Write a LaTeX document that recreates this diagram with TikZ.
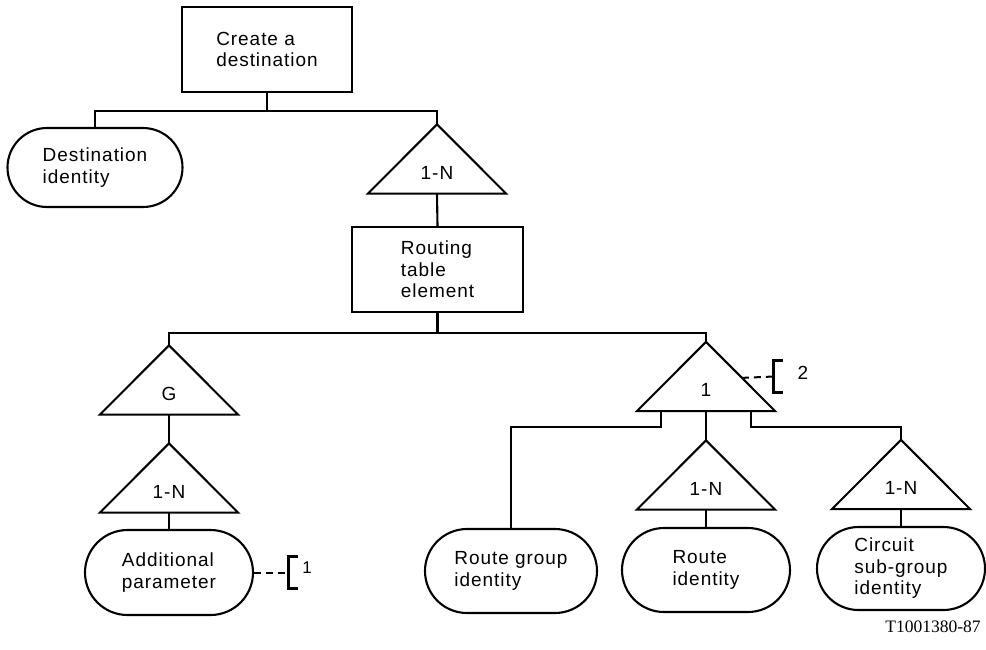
\documentclass[tikz,border=0pt]{standalone}
\usepackage{fontspec}
\setmainfont{Liberation Sans}[LetterSpace=5]
\newfontfamily\tagfont{Liberation Serif}
\usetikzlibrary{shapes.misc,calc,positioning}

\begin{document}
\begin{tikzpicture}[
    x=1pt,
    y=-1pt,
    line width=2.1pt,
    every node/.style={
        font=\fontsize{19}{21.5}\selectfont
    },
    box/.style={
        rectangle,
        draw,
        align=left,
        minimum width=170pt,
        minimum height=85pt,
        inner sep=0pt
    },
    item/.style={
        rounded rectangle,
        draw,
        align=left,
        minimum width=168pt,
        minimum height=84pt,
        inner sep=0pt
    },
    tri/.style={
        rectangle,
        minimum width=136pt,
        minimum height=67pt,
        inner sep=0pt,
        text height=40pt,
        text depth=0pt,
        append after command={\pgfextra{\draw[line join=miter]
            (\tikzlastnode.north) -- (\tikzlastnode.south east)
            -- (\tikzlastnode.south west) -- cycle;}}
    },
    brk/.style={
        rectangle,
        minimum width=7pt,
        minimum height=29pt,
        inner sep=0pt,
        append after command={\pgfextra{\draw[line width=3pt]
            (\tikzlastnode.north east) -- (\tikzlastnode.north west)
            -- (\tikzlastnode.south west) -- (\tikzlastnode.south east);}}
    },
    note/.style={
        dash pattern=on 7pt off 5pt,
        line width=2pt
    }
]
    \useasboundingbox (0,0) rectangle (986,649);

    % Top of the tree
    \node[box] (create) at (267,49.5) {Create a\\destination};
    \node[item, minimum width=175pt, minimum height=79pt] (dest) at (95,167.5) {Destination\\identity};
    \node[tri] (many) at (437,159) {1-N};
    \node[box, minimum width=171pt] (rte) at (437.5,269.5) {Routing\\table\\element};

    % Left branch
    \node[tri] (grp) at (169,380) {G};
    \node[tri] (pmany) at (169,478) {1-N};
    \node[item, minimum height=85pt] (param) at (169,572.5) {Additional\\parameter};
    \node[brk] (b1) at (293.5,572.5) {};
    \node[font=\fontsize{17}{18}\selectfont] (c1) at (307,568) {1};

    % Right branch
    \node[tri] (one) at (706,376.5) {1};
    \node[brk] (b2) at (778.5,376.5) {};
    \node (c2) at (803,373) {2};
    \node[item, minimum width=172pt] (rgid) at (511,571) {Route group\\identity};
    \node[tri] (rmany) at (706,475) {1-N};
    \node[item] (rid) at (706,570) {Route\\identity};
    \node[tri] (cmany) at (901,474.5) {1-N};
    \node[item, minimum height=83pt] (cid) at (901,568.5) {Circuit\\sub-group\\identity};

    % Figure tag
    \node[font=\tagfont\fontsize{17.5}{20}\selectfont, anchor=east] (tag) at (985,627) {T1001380-87};

    % Connections
    \coordinate[below=18pt of create.south] (j1);
    \draw (create.south) -- (j1);
    \draw (dest.north) |- (j1) -| (many.north);
    \draw (many.south) -- (rte.north);

    \coordinate[below=20pt of rte.south] (j2);
    \draw (rte.south) -- (j2);
    \draw (grp.north) |- (j2) -| (one.north);
    \draw (grp.south) -- (pmany.north);
    \draw (pmany.south) -- (param.north);

    \coordinate (bl) at ($(one.south west)+(24,0)$);
    \coordinate (br) at ($(one.south east)+(-24,0)$);
    \draw (bl) -- ++(0,16) -| (rgid.north);
    \draw (one.south) -- (rmany.north);
    \draw (br) -- ++(0,16) -| (cmany.north);
    \draw (rmany.south) -- (rid.north);
    \draw (cmany.south) -- (cid.north);

    % Notes
    \draw[note] (param.east) -- (b1.west);
    \draw[note] ($(one.north)!0.52!(one.south east)$) -- (b2.west);

\end{tikzpicture}
\end{document}
